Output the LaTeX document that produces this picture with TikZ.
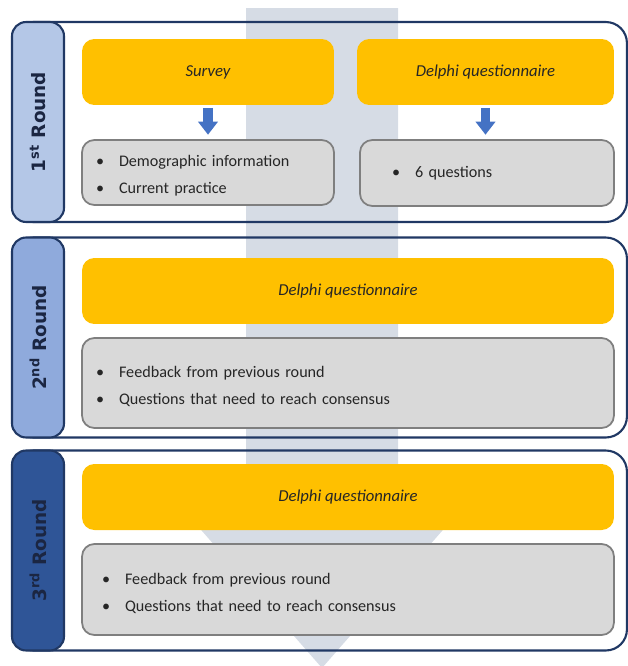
\documentclass[tikz,border=0pt]{standalone}
\usepackage{fontspec}
\setmainfont{Carlito}
\newfontfamily\tabfont{DejaVu Sans}
\usetikzlibrary{arrows.meta}
\definecolor{bgarrow}{RGB}{214,220,229}
\definecolor{qyellow}{RGB}{255,192,0}
\definecolor{qgray}{RGB}{217,217,217}
\definecolor{qgrayline}{RGB}{127,127,127}
\definecolor{navy}{RGB}{32,56,100}
\definecolor{tabA}{RGB}{180,199,231}
\definecolor{tabB}{RGB}{143,170,220}
\definecolor{tabC}{RGB}{47,85,151}
\definecolor{qblue}{RGB}{68,114,196}
\definecolor{tabtext}{RGB}{27,38,66}
\newcommand{\itm}[1]{\makebox[0.46cm][l]{\textbullet}#1}
\newcommand{\lowstrut}{\rule{0pt}{10.5pt}}
\tikzset{
	frame/.style={draw=navy, line width=1.2pt, rounded corners=12pt, minimum width=12.3cm, minimum height=4cm},
	tab/.style={draw=navy, line width=1.2pt, rounded corners=8pt, rotate=90, minimum width=4cm, minimum height=1.04cm, text=tabtext, font=\tabfont\bfseries\fontsize{10.5}{12}\selectfont},
	yellowbox/.style={fill=qyellow, rounded corners=7pt, minimum height=1.32cm, font=\itshape\fontsize{9.5}{12}\selectfont, text=black!85},
	graybox/.style={fill=qgray, draw=qgrayline, line width=1pt, rounded corners=7pt, align=left, inner xsep=0.28cm, text=black!85},
	smallarrow/.style={draw=qblue, line width=5.5pt, -{Triangle[width=11pt,length=7.5pt]}, shorten <=1.5pt, shorten >=2.5pt}
}
\begin{document}
\begin{tikzpicture}[x=0.02cm, y=-0.02cm, font=\fontsize{9.2}{15.3}\selectfont]
	\useasboundingbox (0,0) rectangle (628,666);
	\path
	% centres of the rounds
	(319.5,122) coordinate (R1)
	(319.5,337.5) coordinate (R2)
	(319.5,550.5) coordinate (R3)
	;
	% big arrow behind everything
	\fill[bgarrow] (246,8) -- (398,8) -- (398,515) -- (456,515) -- (322,668) -- (188,515) -- (246,515) -- cycle;
	\foreach \i/\s/\c in {1/st/tabA,2/nd/tabB,3/rd/tabC}{
		\node[frame] (F\i) at (R\i) {};
		\node[tab, fill=\c] (T\i) at (38,0 |- R\i) {\i\textsuperscript{\s} Round};
	}
	% 1st round
	\node[yellowbox, minimum width=5.04cm] (survey) at (208,72) {Survey};
	\node[yellowbox, minimum width=5.14cm] (delphiA) at (485.5,72) {Delphi questionnaire};
	\node[graybox, text width=4.48cm, minimum height=1.3cm] (demo) at (208,172.5) {\lowstrut\itm{Demographic information}\\ \itm{Current practice}};
	\node[graybox, text width=3.8cm, inner xsep=0.64cm, minimum height=1.32cm] (six) at (487,173) {\itm{6 questions}};
	\draw[smallarrow] (survey.south) -- (survey.south |- demo.north);
	\draw[smallarrow] (delphiA.south) -- (delphiA.south |- six.north);
	% 2nd round
	\node[yellowbox, minimum width=10.64cm] (delphiB) at (348,291) {Delphi questionnaire};
	\node[graybox, text width=10.08cm, minimum height=1.8cm] (fbB) at (348,383) {\lowstrut\itm{Feedback from previous round}\\ \itm{Questions that need to reach consensus}};
	% 3rd round
	\node[yellowbox, minimum width=10.64cm] (delphiC) at (348,497) {Delphi questionnaire};
	\node[graybox, text width=9.84cm, inner xsep=0.4cm, minimum height=1.82cm] (fbC) at (348,589.5) {\lowstrut\itm{Feedback from previous round}\\ \itm{Questions that need to reach consensus}};
\end{tikzpicture}
\end{document}
